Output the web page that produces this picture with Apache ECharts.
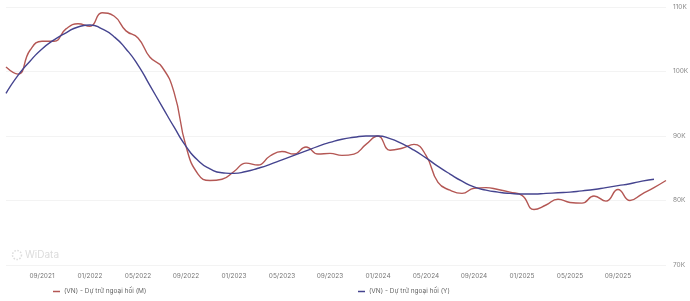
<!DOCTYPE html>
<html>
<head>
<meta charset="utf-8">
<script src="https://cdn.jsdelivr.net/npm/echarts@6/dist/echarts.min.js"></script>
<style>
  html, body { margin: 0; padding: 0; background: #fff; }
  #chart { width: 690px; height: 301px; }
</style>
</head>
<body>
<div id="chart"></div>
<script>
// monthly categories 06/2021 .. 01/2026
const months = []
for (let y = 2021, m = 6; y < 2026 || (y === 2026 && m <= 1); m++) {
  if (m > 12) { m = 1; y++ }
  if (y === 2026 && m > 1) break
  months.push(String(m).padStart(2, '0') + '/' + y)
}

const xTickLabels = [
  '09/2021', '01/2022', '05/2022', '09/2022', '01/2023', '05/2023', '09/2023',
  '01/2024', '05/2024', '09/2024', '01/2025', '05/2025', '09/2025',
]

// (M) - monthly reserves, billion USD (K on axis)
const reservesM = [
  100.7, 99.6, 103.3, 104.7, 104.7, 106.6, 107.4, 107.0, 109.1, 108.6,
  106.3, 105.2, 102.2, 100.7, 96.8, 88.4, 84.1, 83.1, 83.3, 84.5,
  85.8, 85.5, 86.9, 87.6, 87.2, 88.3, 87.2, 87.3, 87.0, 87.2,
  88.7, 90.0, 87.8, 88.1, 88.7, 87.0, 82.8, 81.6, 81.1, 81.9,
  82.0, 81.7, 81.3, 80.8, 78.6, 79.3, 80.2, 79.7, 79.6, 80.7,
  79.9, 81.7, 80.0, 81.0, 82.0, 83.1,
]

// (Y) - smoothed trend
const reservesY = [
  96.6, 99.4, 101.6, 103.5, 104.9, 106.0, 106.9, 107.2, 106.6, 105.4,
  103.5, 101.0, 97.8, 94.6, 91.4, 88.4, 86.2, 84.9, 84.3, 84.2,
  84.5, 85.0, 85.6, 86.3, 87.0, 87.7, 88.4, 89.0, 89.5, 89.8,
  90.0, 90.0, 89.6, 88.8, 87.8, 86.6, 85.3, 84.1, 83.0, 82.1,
  81.6, 81.3, 81.1, 81.0, 81.0, 81.1, 81.2, 81.3, 81.5, 81.7,
  82.0, 82.3, 82.6, 83.0, 83.3, null,
]

const nameM = '(VN) - Dự trữ ngoại hối (M)'
const nameY = '(VN) - Dự trữ ngoại hối (Y)'
const colorM = '#b45754'
const colorY = '#45448f'
const font = 'Inter, "Noto Sans", sans-serif'

const chart = echarts.init(document.getElementById('chart'))

const legendText = { fontSize: 6.5, color: '#666', fontFamily: font, padding: [0, 0, 0, -1] }

chart.setOption({
  animation: false,
  backgroundColor: '#fff',
  textStyle: { fontFamily: font },
  grid: { left: 6, right: 24, top: 7, bottom: 36, outerBoundsMode: 'none' },
  legend: [
    {
      data: [nameM],
      left: 48,
      top: 283,
      icon: 'rect',
      itemWidth: 7,
      itemHeight: 1.5,
      textStyle: legendText,
    },
    {
      data: [nameY],
      left: 353,
      top: 283,
      icon: 'rect',
      itemWidth: 7,
      itemHeight: 1.5,
      textStyle: legendText,
    },
  ],
  graphic: [
    {
      type: 'circle',
      shape: { cx: 17, cy: 255, r: 4.5 },
      style: { fill: 'none', stroke: '#dcdcdc', lineWidth: 1.5, lineDash: [1.5, 1.5] },
      silent: true,
    },
    {
      type: 'text',
      left: 25,
      top: 250,
      style: { text: 'WiData', fill: '#dcdcdc', fontSize: 10, fontFamily: font },
      silent: true,
    },
  ],
  xAxis: {
    type: 'category',
    data: months,
    boundaryGap: false,
    axisLine: { show: false },
    axisTick: { show: false },
    splitLine: { show: false },
    axisLabel: {
      interval: (i, v) => xTickLabels.includes(v),
      fontSize: 6.5,
      color: '#777',
      margin: 8,
    },
  },
  yAxis: {
    type: 'value',
    position: 'right',
    min: 70,
    max: 110,
    interval: 10,
    axisLine: { show: false },
    axisTick: { show: false },
    axisLabel: {
      formatter: (v) => v + 'K',
      fontSize: 6.5,
      color: '#888',
      margin: 7,
    },
    splitLine: { lineStyle: { color: '#f3f3f3', width: 1 } },
  },
  series: [
    {
      name: nameM,
      type: 'line',
      data: reservesM,
      smooth: true,
      symbol: 'none',
      lineStyle: { color: colorM, width: 1.4 },
      itemStyle: { color: colorM },
    },
    {
      name: nameY,
      type: 'line',
      data: reservesY,
      smooth: 0.6,
      symbol: 'none',
      lineStyle: { color: colorY, width: 1.4 },
      itemStyle: { color: colorY },
      z: 3,
    },
  ],
})
</script>
</body>
</html>
